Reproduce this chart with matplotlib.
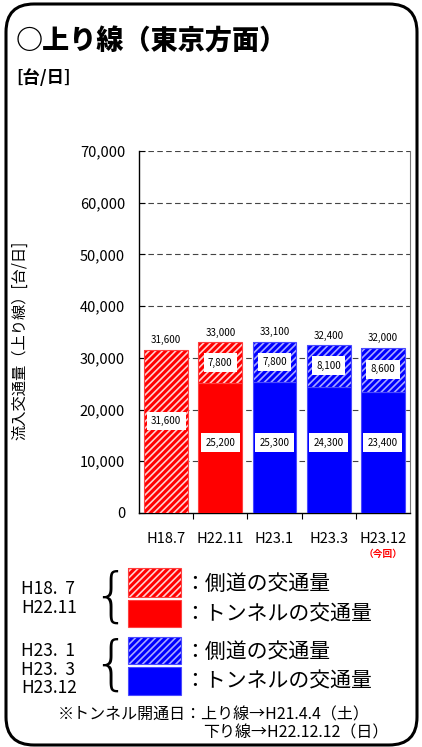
import numpy as np
import matplotlib
matplotlib.use("Agg")
import matplotlib.pyplot as plt
from matplotlib.patches import Rectangle, FancyBboxPatch
from matplotlib.transforms import IdentityTransform

plt.rcParams['font.family'] = ['Noto Sans CJK JP', 'DejaVu Sans']
plt.rcParams['hatch.linewidth'] = 1.2

# survey periods and daily traffic (vehicles/day)
periods = ["H18.7", "H22.11", "H23.1", "H23.3", "H23.12"]
tunnel = [0, 25200, 25300, 24300, 23400]
side_road = [31600, 7800, 7800, 8100, 8600]
totals = [31600, 33000, 33100, 32400, 32000]
group = ["red", "red", "blue", "blue", "blue"]

yticks = np.arange(0, 70001, 10000)

RED, BLUE = "#ff0000", "#0000ff"
face = {"red": RED, "blue": BLUE}
hatch_col = {"red": "#ffd0d0", "blue": "#a8a8ff"}
edge_col = {"red": "#ff4040", "blue": "#4a4aff"}
HATCH = "/////"

W, H = 422, 747
fig = plt.figure(figsize=(W / 100, H / 100), dpi=100)

def fx(px):
    return px / W

def fy(py):
    return 1 - py / H

ax = fig.add_axes([fx(139), fy(513), fx(410) - fx(139), fy(151) - fy(513)])

x = np.arange(len(periods))
bw = 0.81
for i in x:
    g = group[i]
    # tunnel part (solid)
    if tunnel[i] > 0:
        ax.bar(i, tunnel[i], bw, color=face[g], edgecolor=edge_col[g], linewidth=0.8, zorder=3)
    # side-road part (hatched)
    ax.bar(i, side_road[i], bw, bottom=tunnel[i], color=face[g], edgecolor=hatch_col[g],
           hatch=HATCH, linewidth=0, zorder=3)
    ax.bar(i, side_road[i], bw, bottom=tunnel[i], fill=False, edgecolor=edge_col[g],
           linewidth=0.8, zorder=4)

# value labels
box = dict(boxstyle="square,pad=0.45", facecolor="white", edgecolor="none")
side_label_y = [17800, 29100, 29200, 28500, 27800]
for i in x:
    ax.text(i, totals[i] + 1900, f"{totals[i]:,}", ha="center", va="center", fontsize=7, zorder=6)
    ax.text(i, side_label_y[i], f"{side_road[i]:,}", ha="center", va="center", fontsize=7,
            bbox=box, zorder=6)
    if tunnel[i] > 0:
        ax.text(i, 13600, f"{tunnel[i]:,}", ha="center", va="center", fontsize=7,
                bbox=box, zorder=6)

ax.set_xlim(-0.5, len(periods) - 0.5)
ax.set_ylim(0, 70000)
ax.set_yticks(yticks)
ax.set_yticklabels([f"{v:,}" for v in yticks], fontsize=10.5)
ax.set_xticks(x)
ax.set_xticklabels(periods, fontsize=10.5)
ax.set_xticks(np.arange(0.5, len(periods) - 1, 1), minor=True)
ax.tick_params(axis="x", which="major", length=0, pad=14)
ax.tick_params(axis="x", which="minor", direction="out", length=4, width=0.8)
ax.tick_params(axis="y", direction="in", length=4, width=0.8, pad=10)

for v in yticks[1:]:
    ax.axhline(v, color="#444444", linestyle=(0, (5, 3)), linewidth=0.8, zorder=1)

ax.spines["top"].set_visible(False)
ax.spines["right"].set_color("#777777")
ax.spines["left"].set_linewidth(1.0)
ax.spines["bottom"].set_linewidth(1.0)

fig.text(fx(383), fy(554), "（今回）", color=RED, fontsize=7, fontweight="bold", ha="center", va="center")

# titles
fig.text(fx(16), fy(40), "○上り線（東京方面）", fontsize=19.5, fontweight="heavy", va="center")
fig.text(fx(16), fy(78), "[台/日]", fontsize=12.5, fontweight="bold", va="center")
fig.text(fx(20), fy(340), "流入交通量（上り線）[台/日]", fontsize=11, rotation=90, ha="center", va="center")

# legend
def legend_patch(y0, y1, g, hatched):
    r = Rectangle((fx(128), fy(y1)), fx(181) - fx(128), fy(y0) - fy(y1), transform=fig.transFigure,
                  facecolor=face[g], edgecolor=hatch_col[g] if hatched else edge_col[g],
                  hatch=HATCH if hatched else None, linewidth=0)
    fig.add_artist(r)
    fig.add_artist(Rectangle((fx(128), fy(y1)), fx(181) - fx(128), fy(y0) - fy(y1),
                             transform=fig.transFigure, fill=False, edgecolor=edge_col[g], linewidth=0.8))

legend_patch(568, 597, "red", True)
legend_patch(600, 627, "red", False)
legend_patch(637, 664, "blue", True)
legend_patch(667, 695, "blue", False)

for yy, s in [(584, "：側道の交通量"), (614, "：トンネルの交通量"), (652, "：側道の交通量"), (681, "：トンネルの交通量")]:
    fig.text(fx(184), fy(yy), s, fontsize=15, va="center")

for yy, s in [(589, "H18.  7"), (608, "H22.11"), (651, "H23.  1"), (670, "H23.  3"), (688, "H23.12")]:
    fig.text(fx(21), fy(yy), s, fontsize=12.5, va="center")

fig.text(fx(111), fy(598), "{", fontsize=42, ha="center", va="center", family="DejaVu Sans", fontweight="light")
fig.text(fx(111), fy(666), "{", fontsize=42, ha="center", va="center", family="DejaVu Sans", fontweight="light")

fig.text(fx(58), fy(715), "※トンネル開通日：上り線→H21.4.4（土）", fontsize=11.5, va="center")
fig.text(fx(203), fy(733), "下り線→H22.12.12（日）", fontsize=11.5, va="center")

# rounded outer frame
frame = FancyBboxPatch((6, 2), 411, 741, boxstyle="round,pad=0,rounding_size=28",
                       transform=IdentityTransform(), fill=False, edgecolor="black", linewidth=2.2)
fig.add_artist(frame)

fig.savefig("out.png", dpi=100)
